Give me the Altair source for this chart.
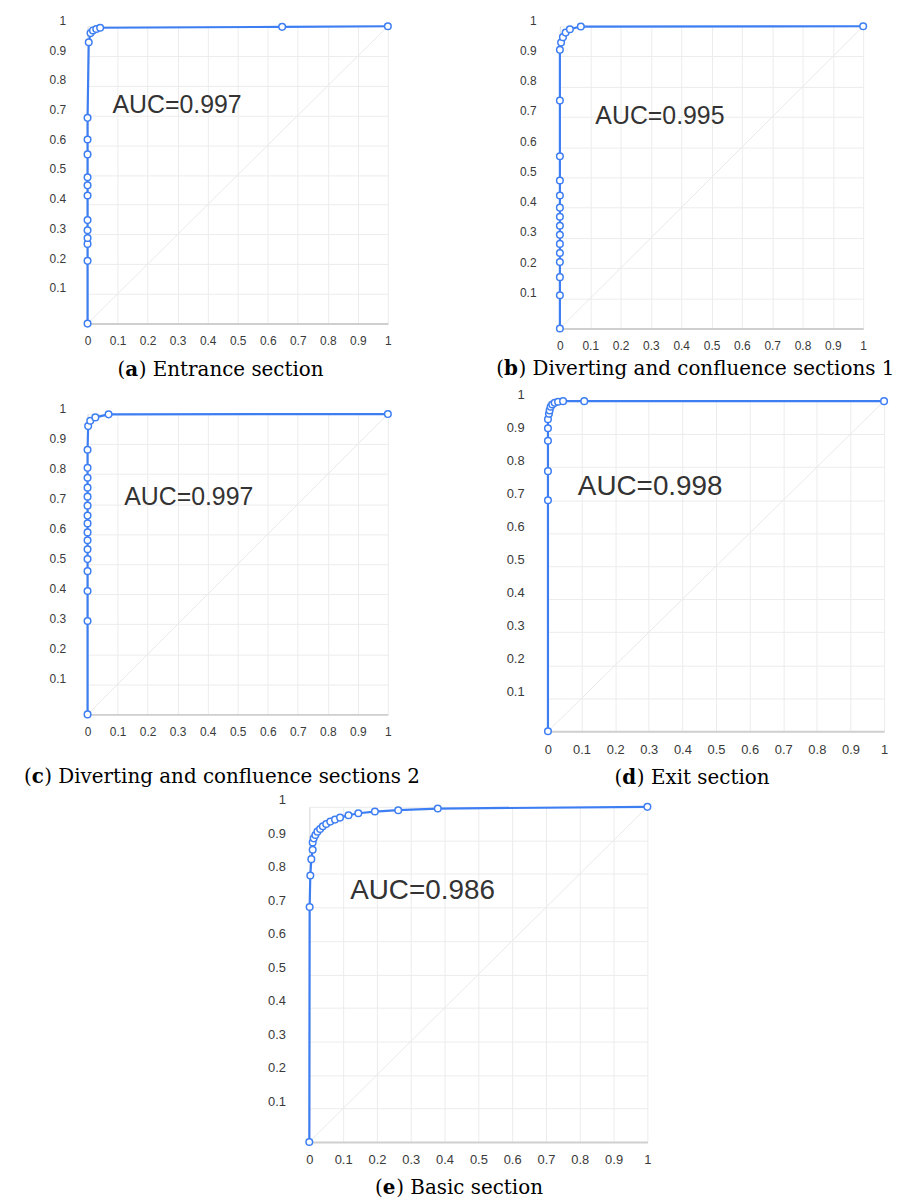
import altair as alt
import pandas as pd

BLUE = "#3e7ef3"
TICKS = [0, 0.1, 0.2, 0.3, 0.4, 0.5, 0.6, 0.7, 0.8, 0.9, 1]

# ---- data ----
a_fpr = [0, 0, 0, 0, 0, 0, 0, 0, 0, 0, 0, 0, 0.004, 0.01, 0.018, 0.029, 0.042, 0.648, 1]
a_tpr = [0, 0.211, 0.268, 0.288, 0.314, 0.348, 0.431, 0.465, 0.492, 0.569, 0.619, 0.692,
         0.946, 0.977, 0.986, 0.991, 0.995, 0.998, 1]

b_fpr = [0, 0, 0, 0, 0, 0, 0, 0, 0, 0, 0, 0, 0, 0, 0, 0.004, 0.01, 0.019, 0.033, 0.069, 1]
b_tpr = [0, 0.11, 0.17, 0.22, 0.25, 0.28, 0.31, 0.34, 0.37, 0.40, 0.44, 0.49, 0.57, 0.754,
         0.922, 0.946, 0.964, 0.979, 0.99, 0.999, 1]

c_fpr = [0, 0, 0, 0, 0, 0, 0, 0, 0, 0, 0, 0, 0, 0, 0, 0, 0.002, 0.009, 0.026, 0.07, 1]
c_tpr = [0, 0.311, 0.411, 0.477, 0.517, 0.55, 0.58, 0.606, 0.636, 0.662, 0.695, 0.725,
         0.755, 0.788, 0.821, 0.881, 0.96, 0.978, 0.989, 0.999, 1]

d_fpr = [0, 0, 0, 0, 0, 0, 0.003, 0.005, 0.008, 0.013, 0.02, 0.03, 0.045, 0.108, 1]
d_tpr = [0, 0.70, 0.788, 0.88, 0.918, 0.945, 0.962, 0.972, 0.983, 0.99, 0.995, 0.998,
         1.0, 1.0, 1]

e_fpr = [0, 0.001, 0.003, 0.006, 0.010, 0.010, 0.013, 0.018, 0.024, 0.032, 0.040, 0.050,
         0.062, 0.076, 0.091, 0.116, 0.145, 0.194, 0.263, 0.380, 1]
e_tpr = [0, 0.701, 0.795, 0.844, 0.872, 0.894, 0.906, 0.916, 0.926, 0.934, 0.942, 0.949,
         0.956, 0.962, 0.968, 0.975, 0.981, 0.986, 0.990, 0.995, 1]

auc_labels = ["AUC=0.997", "AUC=0.995", "AUC=0.997", "AUC=0.998", "AUC=0.986"]
auc_x = [0.083, 0.117, 0.122, 0.089, 0.121]
auc_y = [0.736, 0.704, 0.725, 0.741, 0.748]

letters = ["a", "b", "c", "d", "e"]
captions = [") Entrance section", ") Diverting and confluence sections 1",
            ") Diverting and confluence sections 2", ") Exit section", ") Basic section"]


def panel(fpr, tpr, k, w, h, lab_size, lab_off, lab_pad, auc_size, cap_left, cap_base, bold_w):
    df = pd.DataFrame({"fpr": fpr, "tpr": tpr, "i": list(range(len(fpr)))})
    xs = alt.Scale(domain=[0, 1], nice=False, zero=True)
    ys = alt.Scale(domain=[0, 1], nice=False, zero=True)
    xaxis = alt.Axis(values=TICKS, labelExpr="format(datum.value, '~g')", title=None,
                     grid=True, ticks=False, domain=True, domainColor="#cfcfcf", domainWidth=2,
                     labelFontSize=lab_size, labelPadding=12, labelFlush=False, labelOverlap=False)
    yaxis = alt.Axis(values=TICKS, labelExpr="datum.value == 0 ? '' : format(datum.value, '~g')",
                     title=None, grid=True, ticks=False, domain=True, domainColor="#dddddd",
                     domainWidth=1, labelFontSize=lab_size, labelOffset=lab_off,
                     labelPadding=lab_pad, labelFlush=False, labelOverlap=False)
    X = alt.X("fpr:Q", scale=xs, axis=xaxis)
    Y = alt.Y("tpr:Q", scale=ys, axis=yaxis)

    diag = alt.Chart(pd.DataFrame({"fpr": [0, 1], "tpr": [0, 1]})).mark_line(
        color="#e9e9e9", strokeWidth=1).encode(x=X, y=Y)
    line = alt.Chart(df).mark_line(color=BLUE, strokeWidth=2.2).encode(
        x=X, y=Y, order=alt.Order("i:Q"))
    pts = alt.Chart(df).mark_point(shape="circle", filled=True, fill="white", stroke=BLUE,
                                   strokeWidth=1.5, size=44, opacity=1).encode(x=X, y=Y)
    auc = alt.Chart(pd.DataFrame({"fpr": [auc_x[k]], "tpr": [auc_y[k]], "t": [auc_labels[k]]})
                    ).mark_text(align="left", baseline="middle", font="Liberation Sans",
                                fontSize=auc_size, color="#333333").encode(x=X, y=Y, text="t:N")
    p_w = 7.8
    cap1 = alt.Chart(pd.DataFrame({"t": ["("]})).mark_text(
        align="left", baseline="alphabetic", font="DejaVu Serif", fontSize=20, color="#000000"
    ).encode(x=alt.value(cap_left), y=alt.value(cap_base), text="t:N")
    cap2 = alt.Chart(pd.DataFrame({"t": [letters[k]]})).mark_text(
        align="left", baseline="alphabetic", font="DejaVu Serif", fontSize=20, fontWeight="bold",
        color="#000000"
    ).encode(x=alt.value(cap_left + p_w), y=alt.value(cap_base), text="t:N")
    cap3 = alt.Chart(pd.DataFrame({"t": [captions[k]]})).mark_text(
        align="left", baseline="alphabetic", font="DejaVu Serif", fontSize=20, color="#000000"
    ).encode(x=alt.value(cap_left + p_w + bold_w), y=alt.value(cap_base), text="t:N")
    return alt.layer(diag, line, pts, auc, cap1, cap2, cap3).properties(width=w, height=h)


def spacer():
    return alt.Chart(pd.DataFrame({"v": [0]})).mark_point(opacity=0, size=1).encode(
        x=alt.X("v:Q", axis=None), y=alt.Y("v:Q", axis=None)).properties(width=1, height=1)


A = panel(a_fpr, a_tpr, 0, 302, 299, 12, -6, 22, 25, 30, 352, 13.6)
B = panel(b_fpr, b_tpr, 1, 305, 304, 12, -6, 24, 25, -64, 351, 14.6)
C = panel(c_fpr, c_tpr, 2, 302, 302, 12, -6, 22, 25, -64, 371, 12.6)
D = panel(d_fpr, d_tpr, 3, 338, 332, 13, -7, 24, 28, 67, 385, 14.6)
E = panel(e_fpr, e_tpr, 4, 340, 337, 13, -7, 24, 28, 66, 389, 13.6)

row1 = alt.hconcat(A, B, spacing=102)
c_col = alt.vconcat(spacer(), C, spacing=0)
row2 = alt.hconcat(c_col, D, spacing=85)
row3 = alt.hconcat(spacer(), E, spacing=179)

chart = alt.vconcat(alt.vconcat(row1, row2, spacing=8), row3, spacing=6).properties(
    padding={"left": 16, "top": 3, "right": 0, "bottom": 0}
).configure_view(stroke=None).configure_axis(
    gridColor="#ececec", gridWidth=1, labelColor="#3a3a3a", labelFont="Liberation Sans"
)

chart.save("out.html", embed_options={"renderer": "svg", "actions": False})
